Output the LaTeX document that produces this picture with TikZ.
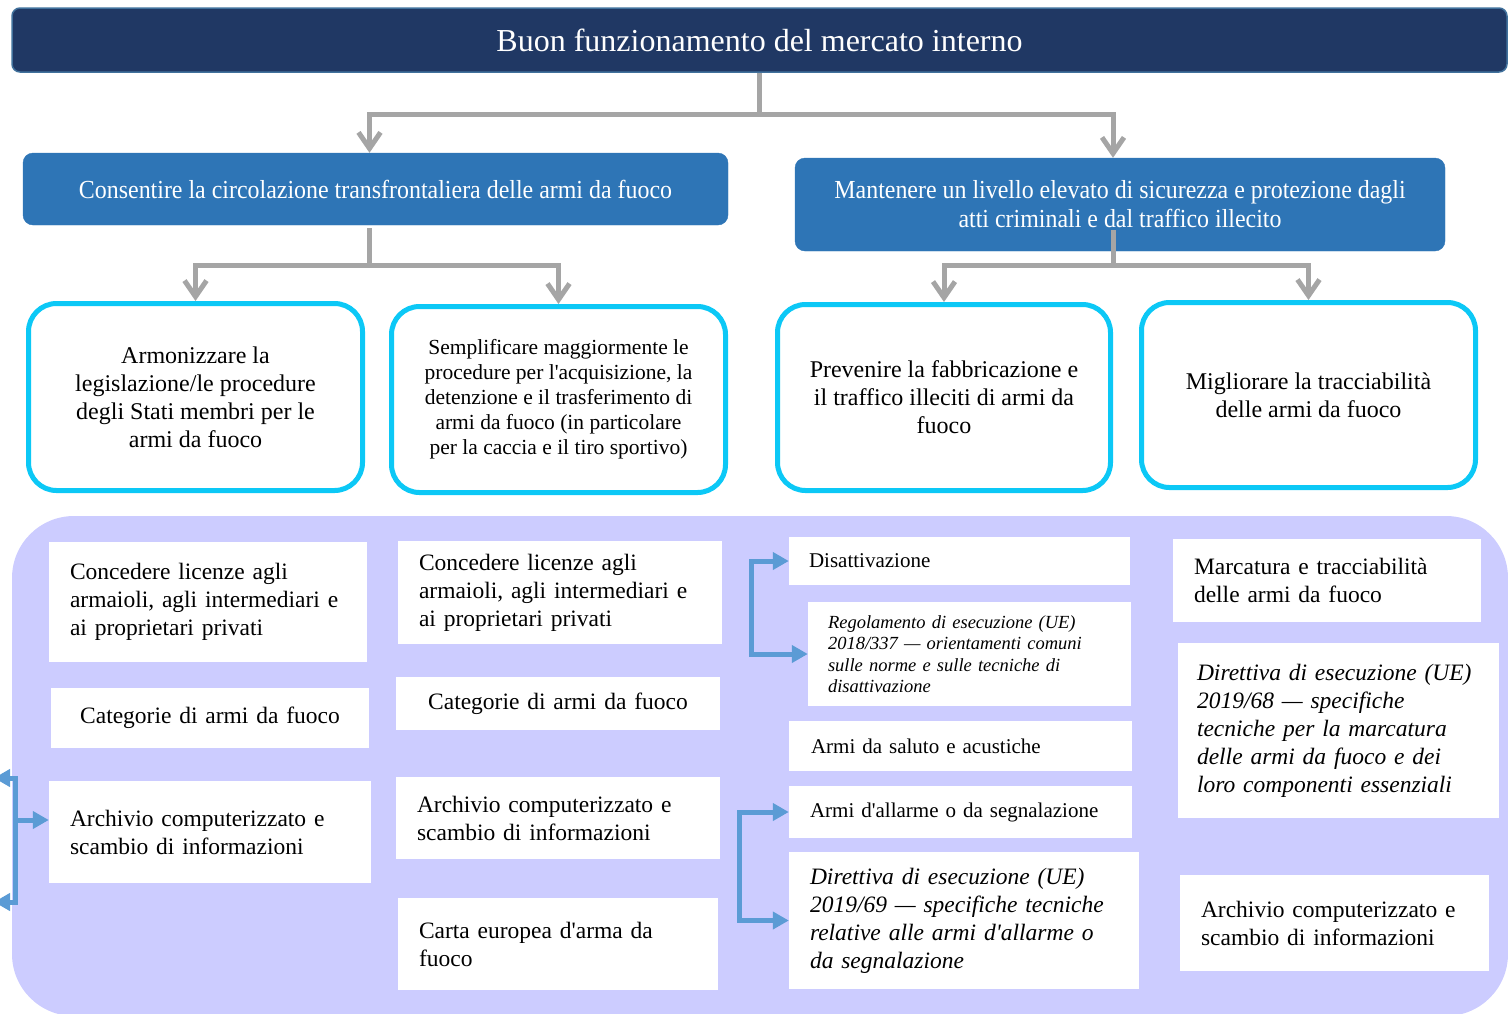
\documentclass[tikz,border=0pt]{standalone}
\usepackage{fontspec}
\setmainfont{Liberation Serif}[Ligatures=TeXOff]
\newfontfamily\narrowfont{Liberation Serif}[FakeStretch=0.92,Ligatures=TeXOff]
\usetikzlibrary{arrows.meta,calc,positioning}

\definecolor{navy}{HTML}{203864}
\definecolor{edgeblue}{HTML}{41719C}
\definecolor{midblue}{HTML}{2E75B6}
\definecolor{cyanline}{HTML}{0CC8F6}
\definecolor{lavender}{HTML}{CCCCFF}
\definecolor{arrowgray}{HTML}{A5A5A5}
\definecolor{bracketblue}{HTML}{5B9BD5}

\begin{document}
\begin{tikzpicture}[x=1pt,y=-1pt,
    topbox/.style={draw=edgeblue,line width=1.5pt,fill=navy,rounded corners=8pt,text=white,
      font=\fontsize{32}{38}\selectfont,inner sep=0pt},
    aimbox/.style={draw=midblue,fill=midblue,rounded corners=10pt,text=white,align=center,
      font=\narrowfont\fontsize{26}{29}\selectfont,inner sep=0pt},
    goalbox/.style={draw=cyanline,line width=5pt,fill=white,rounded corners=28pt,align=center,
      font=\fontsize{24}{28}\selectfont,inner sep=0pt},
    itembox/.style={fill=white,inner ysep=0pt,inner xsep=21pt,align=left,
      font=\fontsize{23.5}{28}\selectfont},
    smallitem/.style={itembox,font=\fontsize{21}{25}\selectfont},
    grayarr/.style={draw=arrowgray,line width=5pt,-{Straight Barb[length=16pt,width=22pt]}},
    bluearr/.style={draw=bracketblue,line width=5pt,>={Triangle[length=16pt,width=17pt]}}]
  \useasboundingbox (0,0) rectangle (1508,1013);
  \clip (0,0) rectangle (1508,1013);

  \fill[lavender,rounded corners=62pt] (12,516) rectangle (1508,1016);

  \node[topbox,minimum width=1495pt,minimum height=64pt] (top) at (759.5,40)
    {Buon funzionamento del mercato interno};

  \node[aimbox,minimum width=705pt,minimum height=72pt] (aim1) at (375.5,189)
    {Consentire la circolazione transfrontaliera delle armi da fuoco};
  \node[aimbox,minimum width=650pt,minimum height=93pt] (aim2) at (1120,204.5)
    {Mantenere un livello elevato di sicurezza e protezione dagli\\atti criminali e dal traffico illecito};

  \node[goalbox,minimum width=334pt,minimum height=187pt] (g1) at (195.5,397)
    {Armonizzare la\\legislazione/le procedure\\degli Stati membri per le\\armi da fuoco};
  \node[goalbox,minimum width=334pt,minimum height=186pt,font=\fontsize{21.5}{25}\selectfont] (g2) at (558.5,399.5)
    {Semplificare maggiormente le\\procedure per l'acquisizione, la\\detenzione e il trasferimento di\\armi da fuoco (in particolare\\per la caccia e il tiro sportivo)};
  \node[goalbox,minimum width=333pt,minimum height=186pt] (g3) at (944,397.5)
    {Prevenire la fabbricazione e\\il traffico illeciti di armi da\\fuoco};
  \node[goalbox,minimum width=334pt,minimum height=185pt] (g4) at (1308.5,395)
    {Migliorare la tracciabilità\\delle armi da fuoco};

  \draw[grayarr] (top.south) -- ++(0,42) -| ([xshift=-6pt]aim1.north);
  \draw[grayarr] (top.south) -- ++(0,42) -| ([xshift=-7pt]aim2.north);
  \draw[grayarr] ([xshift=-6pt,yshift=-3pt]aim1.south) -- ++(0,37) -| (g1.north);
  \draw[grayarr] ([xshift=-6pt,yshift=-3pt]aim1.south) -- ++(0,37) -| (g2.north);
  \draw[grayarr] ([xshift=-7pt,yshift=21pt]aim2.south) -- ++(0,35) -| (g3.north);
  \draw[grayarr] ([xshift=-7pt,yshift=21pt]aim2.south) -- ++(0,35) -| (g4.north);

  \node[itembox,minimum width=318pt,minimum height=120pt,text width=276pt] (l1) at (208,602)
    {Concedere licenze agli\\armaioli, agli intermediari e\\ai proprietari privati};
  \node[itembox,minimum width=318pt,minimum height=60pt,text width=276pt,align=center] (l2) at (210,718)
    {Categorie di armi da fuoco};
  \node[itembox,minimum width=322pt,minimum height=102pt,text width=280pt] (l3) at (210,832)
    {Archivio computerizzato e\\scambio di informazioni};

  \node[itembox,minimum width=324pt,minimum height=103pt,text width=282pt] (m1) at (560,592.5)
    {Concedere licenze agli\\armaioli, agli intermediari e\\ai proprietari privati};
  \node[itembox,minimum width=324pt,minimum height=53pt,text width=282pt,align=center] (m2) at (558,703.5)
    {Categorie di armi da fuoco};
  \node[itembox,minimum width=324pt,minimum height=82pt,text width=282pt] (m3) at (558,818)
    {Archivio computerizzato e\\scambio di informazioni};
  \node[itembox,minimum width=320pt,minimum height=92pt,text width=278pt] (m4) at (558,944)
    {Carta europea d'arma da\\fuoco};

  \node[smallitem,minimum width=341pt,minimum height=48pt,inner xsep=20pt,text width=301pt] (r1) at (959.5,561)
    {Disattivazione};
  \node[itembox,minimum width=323pt,minimum height=104pt,inner xsep=20pt,text width=283pt,
    font=\itshape\fontsize{18.5}{21.5}\selectfont] (r2) at (969.5,654)
    {Regolamento di esecuzione (UE)\\2018/337 — orientamenti comuni\\sulle norme e sulle tecniche di\\disattivazione};
  \node[smallitem,minimum width=343pt,minimum height=50pt,inner xsep=22pt,text width=299pt] (r3) at (960.5,746)
    {Armi da saluto e acustiche};
  \node[smallitem,minimum width=343pt,minimum height=52pt,text width=301pt] (r4) at (960.5,812)
    {Armi d'allarme o da segnalazione};
  \node[itembox,minimum width=350pt,minimum height=137pt,text width=308pt,font=\itshape\fontsize{23.5}{28}\selectfont] (r5) at (964,920.5)
    {Direttiva di esecuzione (UE)\\2019/69 — specifiche tecniche\\relative alle armi d'allarme o\\da segnalazione};

  \node[itembox,minimum width=308pt,minimum height=83pt,text width=266pt] (s1) at (1327,580.5)
    {Marcatura e tracciabilità\\delle armi da fuoco};
  \node[itembox,minimum width=321pt,minimum height=175pt,inner xsep=19pt,text width=283pt,
    font=\itshape\fontsize{23.5}{28}\selectfont] (s2) at (1338.5,730.5)
    {Direttiva di esecuzione (UE)\\2019/68 — specifiche\\tecniche per la marcatura\\delle armi da fuoco e dei\\loro componenti essenziali};
  \node[itembox,minimum width=309pt,minimum height=96pt,text width=267pt] (s3) at (1334.5,923)
    {Archivio computerizzato e\\scambio di informazioni};

  \draw[bluearr,<->] (r1.west) -- ++(-37,0) |- (r2.west);
  \draw[bluearr,<->] (r4.west) -- ++(-49,0) |- (r5.west);

  \coordinate (lup) at (-6,778);
  \coordinate (lmid) at (15,820);
  \coordinate (ldown) at (-6,902);
  \draw[bluearr,<->] (lup) -| (lmid) |- (ldown);
  \draw[bluearr,->] (lmid) -- (lmid -| l3.west);
\end{tikzpicture}
\end{document}
